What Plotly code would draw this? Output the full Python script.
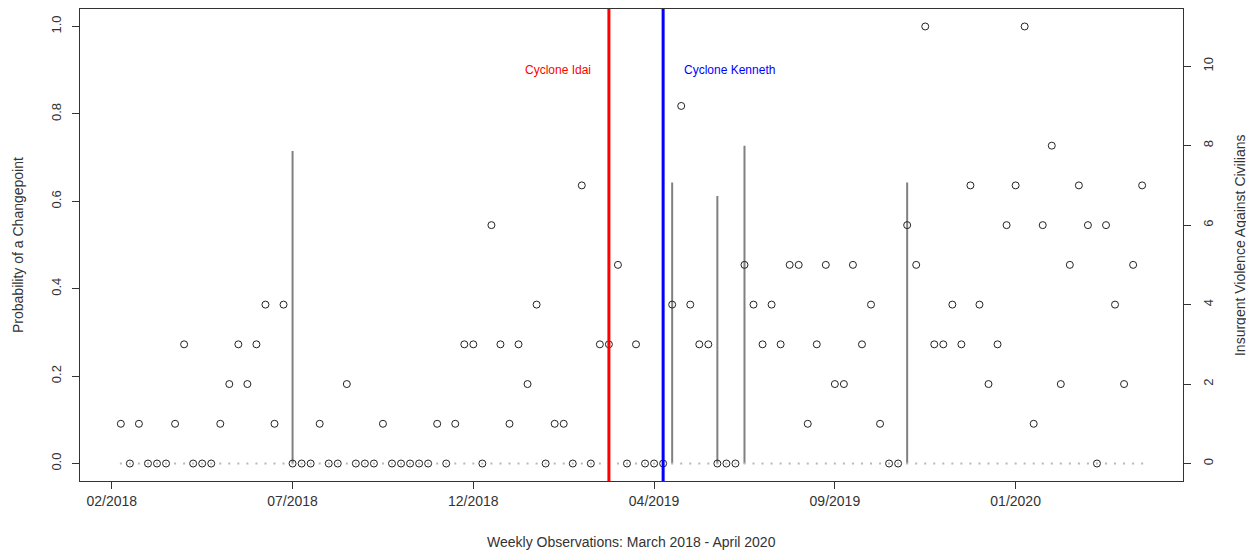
import plotly.graph_objects as go

# ---------------- data ----------------
weeks = list(range(1, 115))
violence = [1, 0, 1, 0, 0, 0, 1, 3, 0, 0,
            0, 1, 2, 3, 2, 3, 4, 1, 4, 0,
            0, 0, 1, 0, 0, 2, 0, 0, 0, 1,
            0, 0, 0, 0, 0, 1, 0, 1, 3, 3,
            0, 6, 3, 1, 3, 2, 4, 0, 1, 1,
            0, 7, 0, 3, 3, 5, 0, 3, 0, 0,
            0, 4, 9, 4, 3, 3, 0, 0, 0, 5,
            4, 3, 4, 3, 5, 5, 1, 3, 5, 2,
            2, 5, 3, 4, 1, 0, 0, 6, 5, 11,
            3, 3, 4, 3, 7, 4, 2, 3, 6, 7,
            11, 1, 6, 8, 2, 5, 7, 6, 0, 6,
            4, 2, 5, 7]
changepoint_weeks = [20, 62, 67, 70, 88]
changepoint_probs = [0.715, 0.643, 0.612, 0.727, 0.643]
prob = [0.0] * len(weeks)
for w, p in zip(changepoint_weeks, changepoint_probs):
    prob[weeks.index(w)] = p

tick_weeks = [0, 20, 40, 60, 80, 100]
tick_labels = ["02/2018", "07/2018", "12/2018", "04/2019", "09/2019", "01/2020"]

cyclone_names = ["Cyclone Idai", "Cyclone Kenneth"]
cyclone_weeks = [55, 61]
cyclone_colors = ["#ff0000", "#0000ff"]
label_level = 0.9

FONT = "Arial, Liberation Sans, sans-serif"
AX = "#333333"

fig = go.Figure()

# probability of changepoint ("h" style lines)
hx, hy = [], []
for w, p in zip(weeks, prob):
    if p > 0:
        hx += [w, w, None]
        hy += [0, p, None]
fig.add_trace(go.Scatter(x=hx, y=hy, mode="lines",
                         line=dict(color="#808080", width=2),
                         hoverinfo="skip", showlegend=False))
fig.add_trace(go.Scatter(x=weeks, y=[0] * len(weeks), mode="markers",
                         marker=dict(symbol="square", size=2, color="#b8b8b8",
                                     line=dict(width=0)),
                         hoverinfo="skip", showlegend=False))

# cyclone lines
for name, w, c in zip(cyclone_names, cyclone_weeks, cyclone_colors):
    fig.add_shape(type="line", xref="x", yref="paper", x0=w, x1=w, y0=0, y1=1,
                  line=dict(color=c, width=3), layer="above")

# violence counts on secondary axis
fig.add_trace(go.Scatter(x=weeks, y=violence, mode="markers", yaxis="y2",
                         marker=dict(symbol="circle-open", size=7, color="#222222",
                                     line=dict(width=1, color="#222222")),
                         showlegend=False))

# cyclone labels
fig.add_annotation(x=cyclone_weeks[0], y=label_level, xref="x", yref="y",
                   text=cyclone_names[0], showarrow=False, xanchor="right",
                   xshift=-16, font=dict(family=FONT, size=12, color=cyclone_colors[0]))
fig.add_annotation(x=cyclone_weeks[1], y=label_level, xref="x", yref="y",
                   text=cyclone_names[1], showarrow=False, xanchor="left",
                   xshift=19, font=dict(family=FONT, size=12, color=cyclone_colors[1]))

# axis titles
fig.add_annotation(xref="paper", yref="paper", x=-0.0562, y=0.5,
                   xanchor="center", yanchor="middle",
                   text="Probability of a Changepoint", textangle=-90, showarrow=False,
                   font=dict(family=FONT, size=14, color=AX))
fig.add_annotation(xref="paper", yref="paper", x=1.0517, y=0.5,
                   xanchor="center", yanchor="middle",
                   text="Insurgent Violence Against Civilians", textangle=-90, showarrow=False,
                   font=dict(family=FONT, size=14, color=AX))
fig.add_annotation(xref="paper", yref="paper", x=0.5, y=-0.129,
                   xanchor="center", yanchor="middle",
                   text="Weekly Observations: March 2018 - April 2020", showarrow=False,
                   font=dict(family=FONT, size=14, color=AX))

pad = (weeks[-1] - weeks[0]) * 0.04
fig.update_layout(
    width=1246, height=547,
    margin=dict(l=72, r=71, t=1, b=74),
    plot_bgcolor="white", paper_bgcolor="white",
    font=dict(family=FONT, size=14, color=AX),
    xaxis=dict(range=[weeks[0] - pad, weeks[-1] + pad], tickvals=tick_weeks,
               ticktext=tick_labels, ticks="outside", ticklen=7, tickcolor=AX,
               showgrid=False, zeroline=False, showline=True, linecolor=AX,
               linewidth=1, mirror=True, tickfont=dict(size=14, color=AX)),
    yaxis=dict(range=[-0.04, 1.04], tickvals=[0, 0.2, 0.4, 0.6, 0.8, 1.0],
               ticktext=["0.0", "0.2", "0.4", "0.6", "0.8", "1.0"],
               ticks="outside", ticklen=7, tickcolor=AX, tickangle=-90,
               ticklabelstandoff=6,
               showgrid=False, zeroline=False, showline=True, linecolor=AX,
               linewidth=1, mirror=True, tickfont=dict(size=13, color=AX)),
    yaxis2=dict(range=[-0.44, 11.44], tickvals=[0, 2, 4, 6, 8, 10],
                overlaying="y", side="right", ticks="outside", ticklen=7,
                tickcolor=AX, tickangle=-90, ticklabelstandoff=6,
                showgrid=False, zeroline=False, showline=False,
                tickfont=dict(size=13, color=AX)),
)

fig.write_html("out.html")
